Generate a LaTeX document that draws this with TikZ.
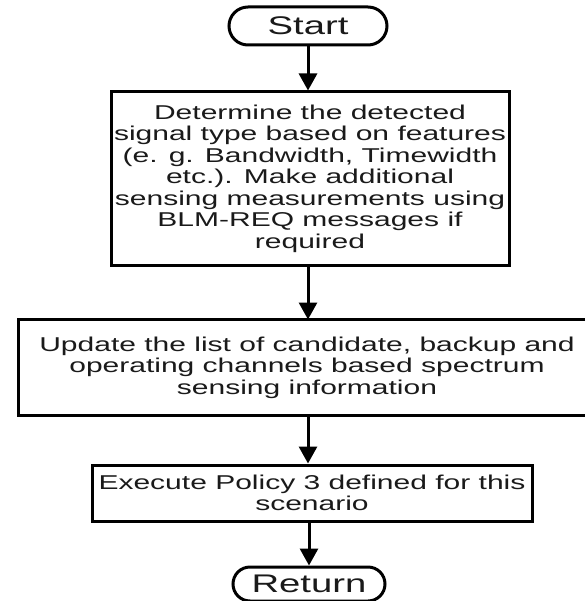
\documentclass[tikz,border=0pt]{standalone}
\usepackage{fontspec}
\setmainfont{Liberation Sans}[FakeStretch=1.5]
\usetikzlibrary{arrows.meta}
\definecolor{ink}{HTML}{1A1A1A}
\tikzset{
  boxline/.style={draw=black, line width=3pt},
  procbox/.style={boxline, inner sep=0pt, align=center, text=ink,
    font=\fontsize{20}{21.5}\selectfont},
  termbox/.style={boxline, inner sep=0pt, align=center, text=ink,
    font=\fontsize{25.5}{27}\selectfont},
  flowarrow/.style={draw=black, line width=3pt, -{Triangle[length=17pt,width=18pt]}}
}
\begin{document}
\begin{tikzpicture}[x=1pt,y=-1pt]
\useasboundingbox (0,0) rectangle (585,601);
\fill[white] (0,0) rectangle (585,601);

\node[termbox, minimum width=158pt, minimum height=38pt, rounded corners=19pt] (start) at (308,26) {Start};

\node[procbox, minimum width=398pt, minimum height=173pt] (box1) at (310,178.5)
  {Determine the detected\\signal type based on features\\(e. g. Bandwidth, Timewidth\\etc.). Make additional\\sensing measurements using\\BLM-REQ messages if\\required};

\node[procbox, draw=none, minimum width=540pt, minimum height=93pt] (box2) at (307,367.5)
  {Update the list of candidate, backup and\\operating channels based spectrum\\sensing information};
\draw[boxline] (box2.north -| 585,0) -- (box2.north -| 18,0) -- (box2.south -| 18,0) -- (box2.south -| 585,0);

\node[procbox, minimum width=440pt, minimum height=56pt] (box3) at (312,493)
  {Execute Policy 3 defined for this\\scenario};

\node[termbox, minimum width=152pt, minimum height=34pt, rounded corners=17pt] (ret) at (309,584) {Return};

\draw[flowarrow] (start.south) -- (start.south |- box1.north);
\draw[flowarrow] (box1.south -| start.south) -- (start.south |- box2.north);
\draw[flowarrow] (box2.south -| start.south) -- (start.south |- box3.north);
\draw[flowarrow] (box3.south -| ret.north) -- (ret.north);
\end{tikzpicture}
\end{document}
